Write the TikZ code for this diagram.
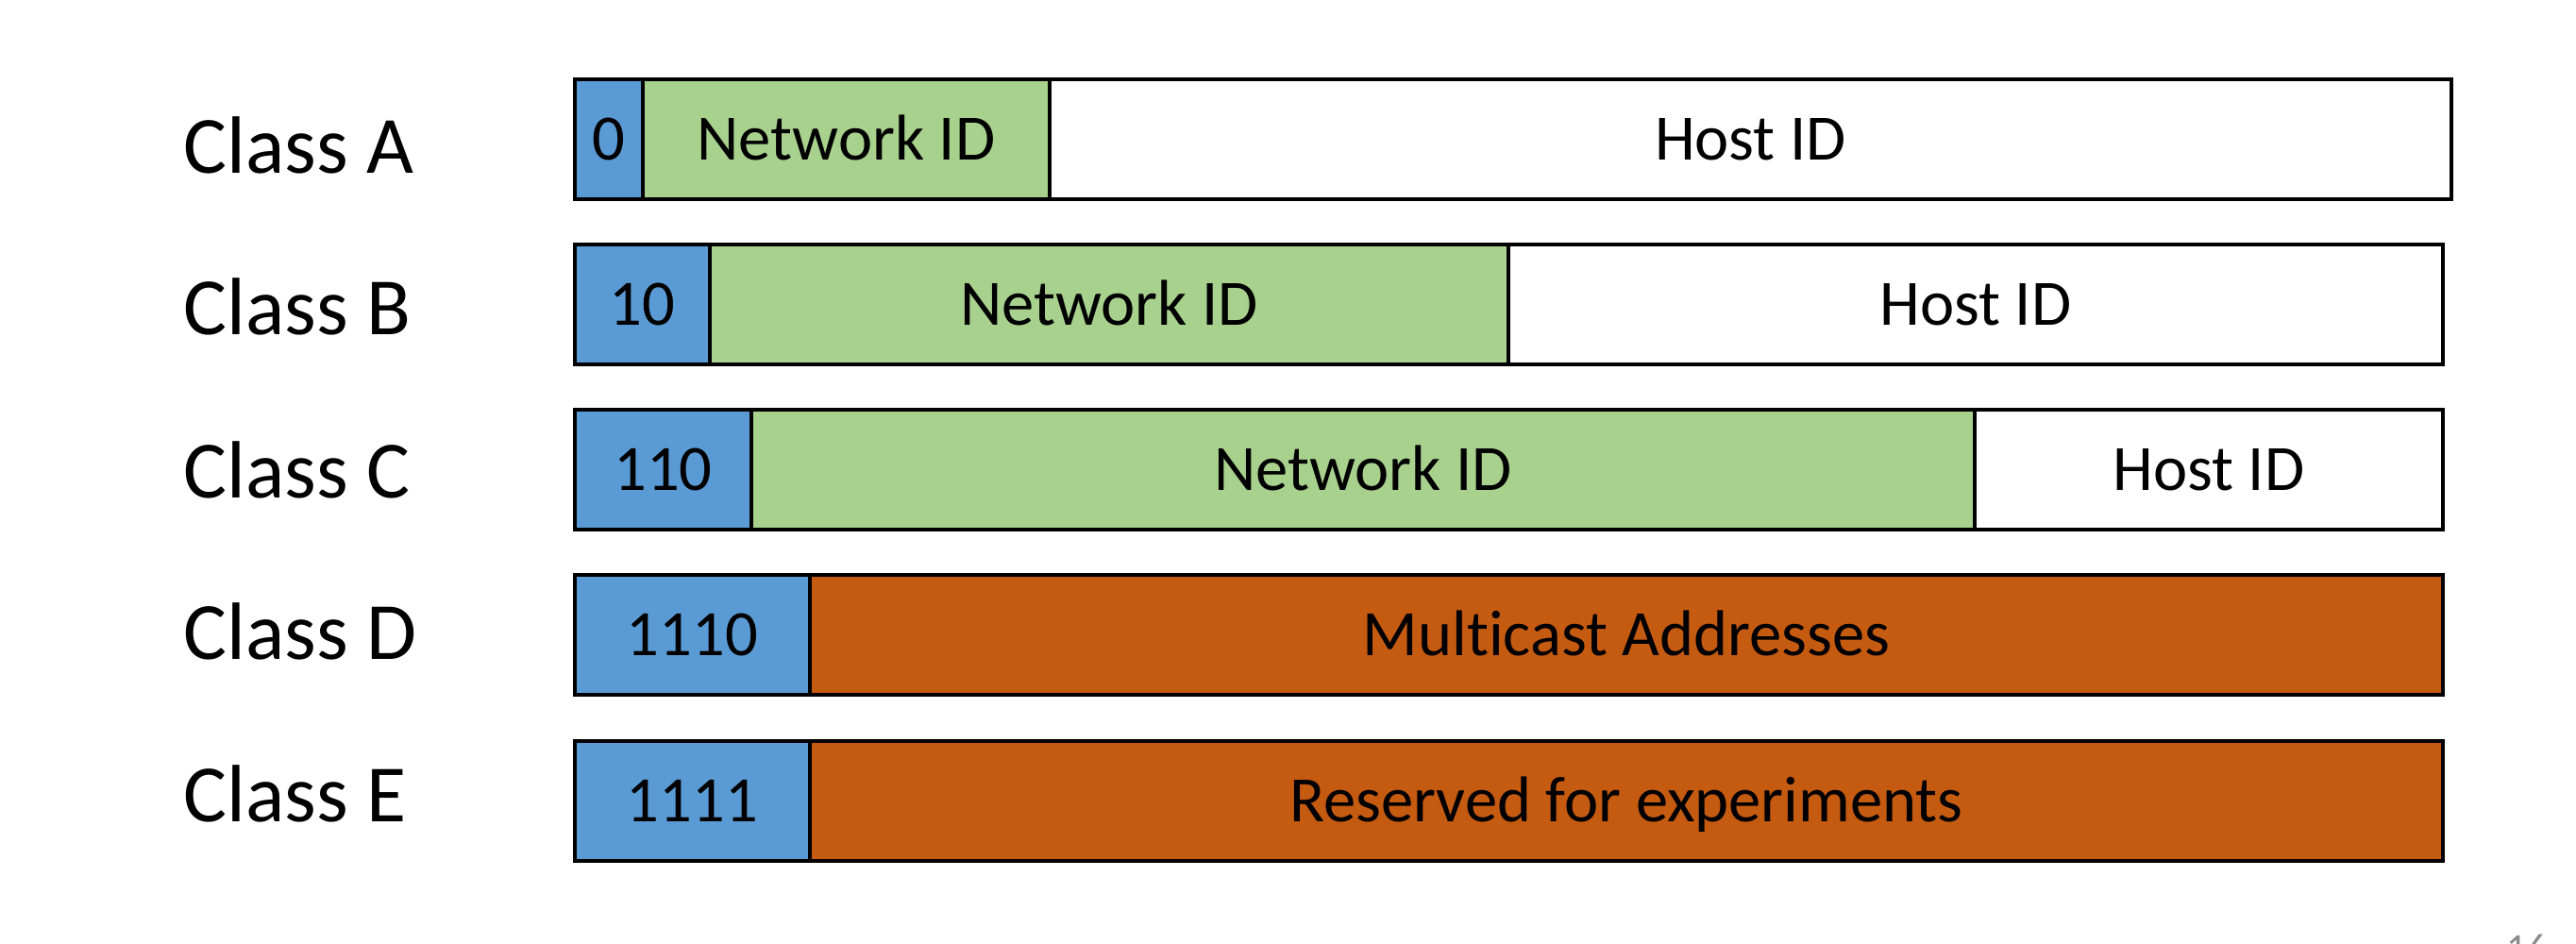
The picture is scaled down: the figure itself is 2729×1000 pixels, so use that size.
\documentclass[tikz,border=0pt]{standalone}
\usepackage{fontspec}
\setmainfont{Carlito}[Ligatures={NoCommon}]
\definecolor{idblue}{HTML}{5B9BD5}
\definecolor{idgreen}{HTML}{A9D18E}
\definecolor{idorange}{HTML}{C55A11}
\definecolor{pggray}{HTML}{8C8C8C}
\newcommand\mycell[6]{\node[cell, fill=#5, minimum width={(#3-#2)*0.01cm}] (#1) at (#2,#4) {#6};}
\begin{document}
\begin{tikzpicture}[x=0.01cm,y=-0.01cm,
  cell/.style={draw=black, line width=1.1pt, inner sep=0pt, anchor=north west,
    font=\fontsize{19.5}{20}\selectfont, text height=12.3pt, text depth=0pt,
    minimum height=1.27cm},
  lbl/.style={anchor=base west, inner sep=0pt, font=\fontsize{24.5}{26}\selectfont}]
\useasboundingbox (0,0) rectangle (2729,1000);
% labels
\node[lbl] (la) at (194,183) {Class A};
\node[lbl] (lb) at (194,354) {Class B};
\node[lbl] (lc) at (194,527) {Class C};
\node[lbl] (ld) at (194,698) {Class D};
\node[lbl] (le) at (194,870) {Class E};
% Class A
\mycell{a1}{607}{679}{82}{idblue}{0}
\mycell{a2}{679}{1110}{82}{idgreen}{Network ID}
\mycell{a3}{1110}{2595}{82}{white}{Host ID}
% Class B
\mycell{b1}{607}{750}{257}{idblue}{10}
\mycell{b2}{750}{1596}{257}{idgreen}{Network ID}
\mycell{b3}{1596}{2586}{257}{white}{Host ID}
% Class C
\mycell{c1}{607}{794}{432}{idblue}{110}
\mycell{c2}{794}{2090}{432}{idgreen}{Network ID}
\mycell{c3}{2090}{2586}{432}{white}{Host ID}
% Class D
\mycell{d1}{607}{856}{607}{idblue}{1110}
\mycell{d2}{856}{2586}{607}{idorange}{Multicast Addresses}
% Class E
\mycell{e1}{607}{856}{783}{idblue}{1111}
\mycell{e2}{856}{2586}{783}{idorange}{Reserved for experiments}
% page number (cut off at the bottom edge, as in the reference)
\node[anchor=base west, inner sep=0pt, text=pggray, font=\fontsize{12}{12}\selectfont] (pg) at (2655,1018) {16};
\end{tikzpicture}
\end{document}
